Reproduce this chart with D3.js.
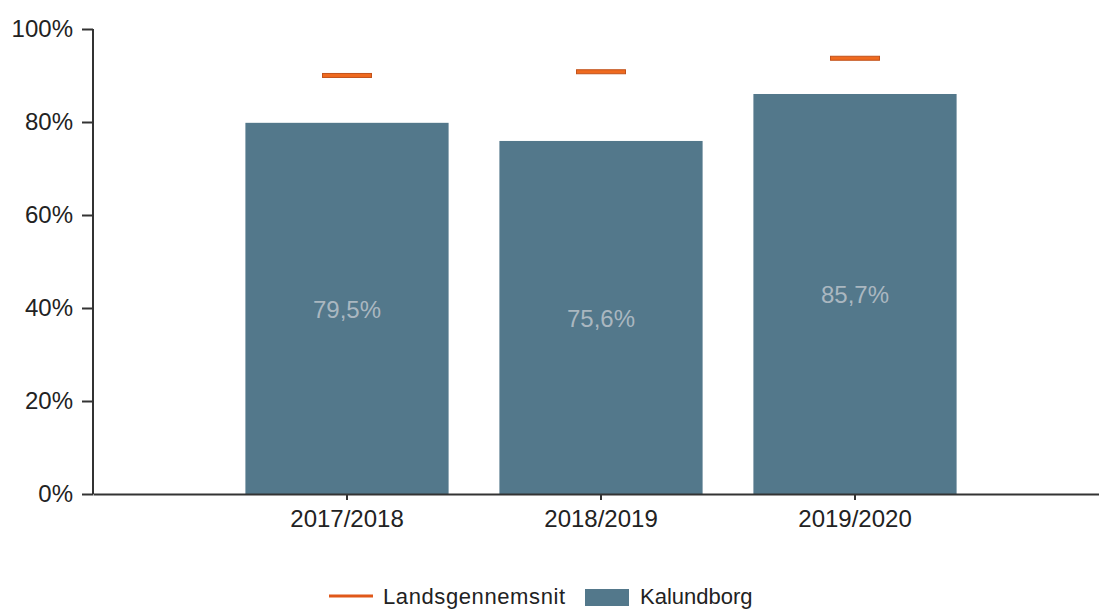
<!DOCTYPE html>
<html>
<head>
<meta charset="utf-8">
<script src="https://cdn.jsdelivr.net/npm/d3@7"></script>
<style>
  body { margin: 0; background: #fff; }
  svg { display: block; font-family: "Liberation Sans", Arial, sans-serif; }
</style>
</head>
<body>
<div id="chart"></div>
<script>
// data
var years = ["2017/2018", "2018/2019", "2019/2020"];
var kalundborg = [79.5, 75.6, 85.7];
var landsgennemsnit = [89.9, 90.7, 93.6];
var yTicks = [0, 20, 40, 60, 80, 100];

var W = 1099, H = 610;
var margin = {top: 29, left: 93, bottom: 116};

var svg = d3.select("#chart").append("svg")
  .attr("width", W)
  .attr("height", H);

var x = d3.scaleBand()
  .domain(years)
  .range([margin.left, 1109])
  .paddingInner(0.2)
  .paddingOuter(0.6);

var y = d3.scaleLinear()
  .domain([0, 100])
  .range([H - margin.bottom, margin.top]);

// bars
svg.append("g").selectAll("rect")
  .data(years)
  .enter().append("rect")
  .attr("x", function(d) { return x(d); })
  .attr("y", function(d, i) { return y(kalundborg[i]) - 1.5; })
  .attr("width", x.bandwidth())
  .attr("height", function(d, i) { return y(0) - y(kalundborg[i]) + 1.5; })
  .attr("fill", "#53788b");

// value labels inside the bars
svg.append("g").selectAll("text")
  .data(years)
  .enter().append("text")
  .attr("x", function(d) { return x(d) + x.bandwidth() / 2; })
  .attr("y", function(d, i) { return (y(kalundborg[i]) + y(0)) / 2; })
  .attr("dy", "0.35em")
  .attr("text-anchor", "middle")
  .attr("fill", "#aab7c0")
  .style("font-size", "24px")
  .text(function(d, i) { return String(kalundborg[i]).replace(".", ",") + "%"; });

// national average markers
var mw = 49;
svg.append("g").selectAll("rect")
  .data(years)
  .enter().append("rect")
  .attr("x", function(d) { return x(d) + x.bandwidth() / 2 - mw / 2; })
  .attr("y", function(d, i) { return y(landsgennemsnit[i]) - 2.5; })
  .attr("width", mw)
  .attr("height", 4)
  .attr("fill", "#ef6a1f")
  .attr("stroke", "#c2521b")
  .attr("stroke-width", 1);

// axes
var yAxis = svg.append("g")
  .attr("transform", "translate(" + margin.left + ",0)")
  .call(d3.axisLeft(y).tickValues(yTicks).tickSize(11).tickPadding(9)
    .tickFormat(function(d) { return d + "%"; }));

var xAxis = svg.append("g")
  .attr("transform", "translate(0," + y(0) + ")")
  .call(d3.axisBottom(x).tickSize(6).tickSizeOuter(0).tickPadding(10));

[yAxis, xAxis].forEach(function(a) {
  a.select(".domain").attr("stroke", "#333").attr("stroke-width", 2);
  a.selectAll(".tick line").attr("stroke", "#333").attr("stroke-width", 2);
  a.selectAll(".tick text").attr("fill", "#222").style("font-size", "24px");
});
yAxis.select(".domain").attr("d", "M0," + y(100) + "V" + y(0));

// legend
var legend = svg.append("g").attr("transform", "translate(329,596)");
legend.append("line")
  .attr("x1", 0).attr("x2", 44)
  .attr("stroke", "#e0581a").attr("stroke-width", 3);
legend.append("text")
  .attr("x", 54).attr("y", 8)
  .attr("fill", "#222")
  .style("font-size", "22px")
  .style("letter-spacing", "0.6px")
  .text("Landsgennemsnit");
legend.append("rect")
  .attr("x", 256).attr("y", -7)
  .attr("width", 44).attr("height", 17)
  .attr("fill", "#53788b");
legend.append("text")
  .attr("x", 311).attr("y", 8)
  .attr("fill", "#222")
  .style("font-size", "22px")
  .text("Kalundborg");
</script>
</body>
</html>
